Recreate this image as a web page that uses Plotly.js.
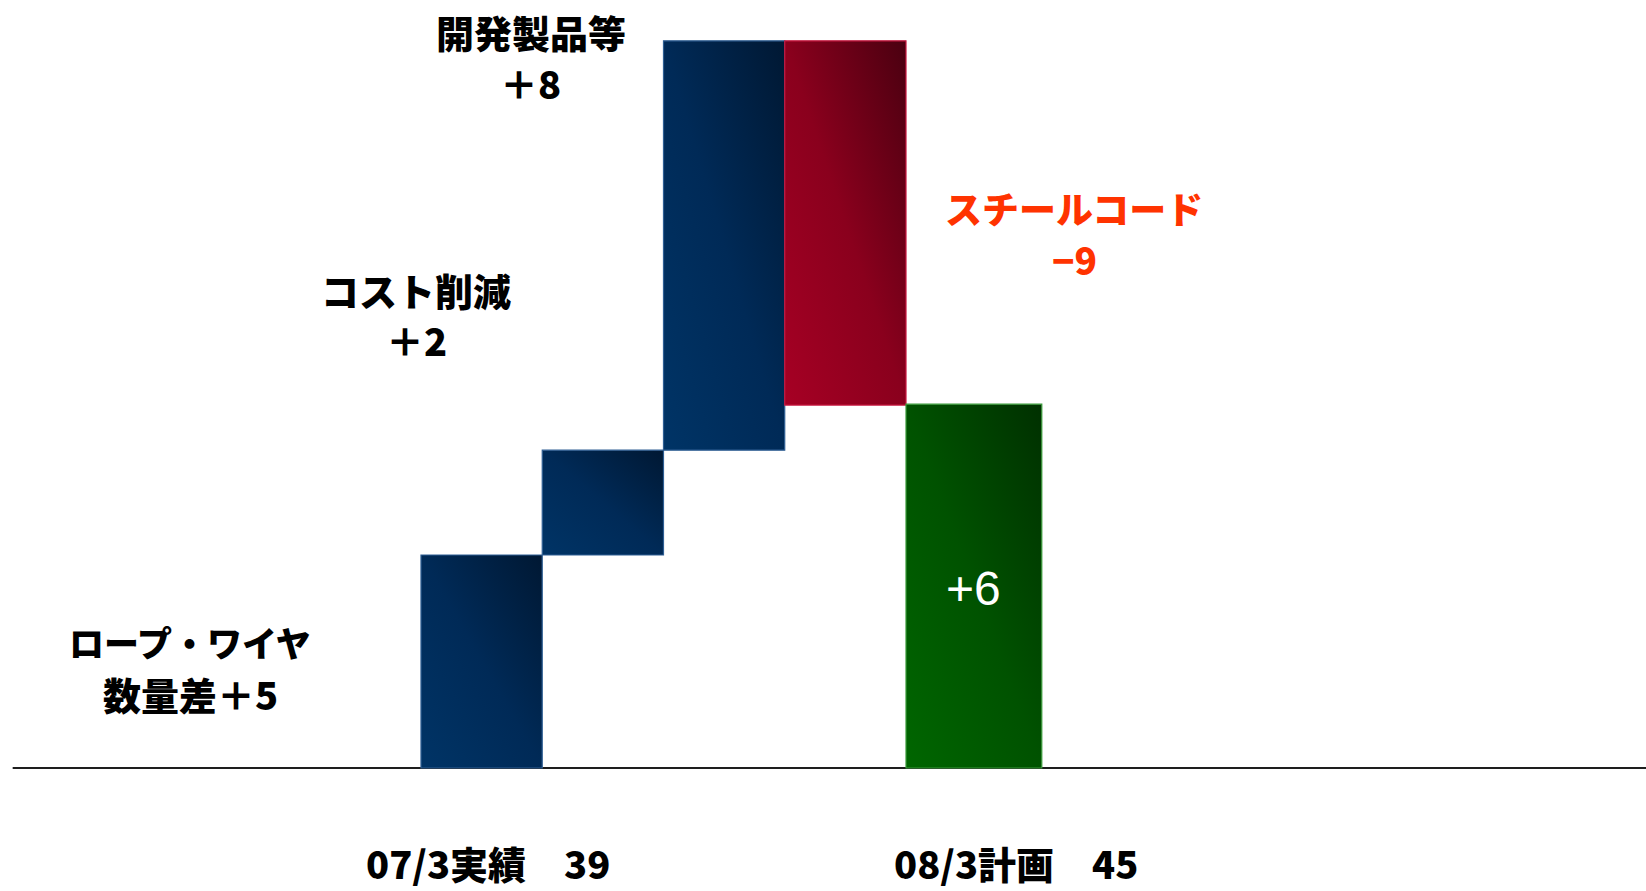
<!DOCTYPE html>
<html>
<head>
<meta charset="utf-8">
<script src="https://cdn.plot.ly/plotly-3.0.1.min.js"></script>
<style>
  html, body { margin: 0; padding: 0; background: #ffffff; }
  #chart { width: 1646px; height: 891px; }
</style>
</head>
<body>
<svg width="0" height="0" style="position:absolute">
  <defs>
    <linearGradient id="gBlue" x1="0" y1="1" x2="1" y2="0">
      <stop offset="0" stop-color="#003466"/>
      <stop offset="0.5" stop-color="#002a57"/>
      <stop offset="1" stop-color="#001833"/>
    </linearGradient>
    <linearGradient id="gRed" x1="0" y1="1" x2="1" y2="0">
      <stop offset="0" stop-color="#a60024"/>
      <stop offset="0.5" stop-color="#8a001d"/>
      <stop offset="1" stop-color="#4a0010"/>
    </linearGradient>
    <linearGradient id="gGreen" x1="0" y1="1" x2="1" y2="0">
      <stop offset="0" stop-color="#006600"/>
      <stop offset="0.5" stop-color="#005200"/>
      <stop offset="1" stop-color="#003000"/>
    </linearGradient>
  </defs>
</svg>
<div id="chart"></div>
<script>
// ---- data ----
const steps = ['ロープ・ワイヤ数量差', 'コスト削減', '開発製品等', 'スチールコード', '08/3計画'];
const stepIndex = [0, 1, 2, 3, 4];
const changes = [5, 2, 8, -9, 6];                 // values printed in the labels
const barBase = [0, 5.0, 7.46, 17.07, 0];          // drawn bottom of each step (picture units)
const barSpan = [5.0, 2.46, 9.61, -8.55, 8.54];    // drawn height of each step (picture units)
const startLabel = '07/3実績　39';
const endLabel = '08/3計画　45';
const labelLine1 = ['ロープ・ワイヤ', 'コスト削減', '開発製品等', 'スチールコード', '+6'];
const labelLine2 = ['数量差＋5', '＋2', '＋8', '−9', ''];

// ---- styles ----
const fills = ['#002a57', '#002a57', '#002a57', '#8a001d', '#005200'];
const grads = ['gBlue', 'gBlue', 'gBlue', 'gRed', 'gGreen'];
const edges = ['#2f5f94', '#2f5f94', '#2f5f94', '#c8163f', '#3a9a3a'];
const widths = [1, 1, 1, 1, 1.12];

const trace = {
  type: 'bar',
  x: stepIndex,
  y: barSpan,
  base: barBase,
  width: widths,
  offset: -0.5,
  marker: { color: fills, line: { color: edges, width: 1.2 } },
  hoverinfo: 'skip',
  text: steps,
  textposition: 'none'
};

const black = { family: '"Noto Sans CJK JP", sans-serif', size: 38, color: '#000000', weight: 900 };
const blackKana = { family: '"Noto Sans CJK JP", sans-serif', size: 35, color: '#000000', weight: 900 };
const red = { family: '"Noto Sans CJK JP", sans-serif', size: 37, color: '#ff3300', weight: 900 };
const white = { family: '"Liberation Sans", Arial, sans-serif', size: 48, color: '#ffffff' };
const axisFont = { family: '"Noto Sans CJK JP", sans-serif', size: 38, color: '#000000', weight: 900 };

const labelPos = [
  { x: -2.405, y1: 2.98, y2: 1.74, f1: blackKana, f2: black },
  { x: -0.541, y1: 11.24, y2: 10.07, f1: black, f2: black },
  { x: 0.407, y1: 17.29, y2: 16.10, f1: black, f2: black },
  { x: 4.886, y1: 13.15, y2: 11.95, f1: red, f2: red },
  { x: 4.053, y1: 4.22, y2: 0, f1: white, f2: white }
];

const annotations = [];
labelLine1.forEach((t, i) => {
  annotations.push({ text: t, x: labelPos[i].x, y: labelPos[i].y1, xref: 'x', yref: 'y',
    showarrow: false, xanchor: 'center', yanchor: 'middle', font: labelPos[i].f1 });
  if (labelLine2[i]) {
    annotations.push({ text: labelLine2[i], x: labelPos[i].x, y: labelPos[i].y2, xref: 'x', yref: 'y',
      showarrow: false, xanchor: 'center', yanchor: 'middle', font: labelPos[i].f2 });
  }
});
annotations.push({ text: startLabel, x: 0.053, y: -2.21, xref: 'x', yref: 'y', showarrow: false,
  xanchor: 'center', yanchor: 'middle', font: axisFont });
annotations.push({ text: endLabel, x: 4.407, y: -2.21, xref: 'x', yref: 'y', showarrow: false,
  xanchor: 'center', yanchor: 'middle', font: axisFont });

const layout = {
  width: 1646, height: 891,
  margin: { l: 0, r: 0, t: 0, b: 0, pad: 0 },
  paper_bgcolor: '#ffffff', plot_bgcolor: '#ffffff',
  showlegend: false,
  bargap: 0,
  xaxis: { visible: false, range: [-3.972, 9.603], fixedrange: true },
  yaxis: { visible: false, range: [-2.887, 18.028], fixedrange: true },
  shapes: [{
    type: 'line', layer: 'below', xref: 'paper', yref: 'y',
    x0: 0.0077, x1: 1, y0: 0, y1: 0,
    line: { color: '#1e1e1e', width: 2 }
  }],
  annotations: annotations
};

Plotly.newPlot('chart', [trace], layout, { displayModeBar: false, staticPlot: true }).then(() => {
  const paths = document.querySelectorAll('#chart .bars .point path');
  paths.forEach((p, i) => { p.style.fill = 'url(#' + grads[i] + ')'; });
});
</script>
</body>
</html>
